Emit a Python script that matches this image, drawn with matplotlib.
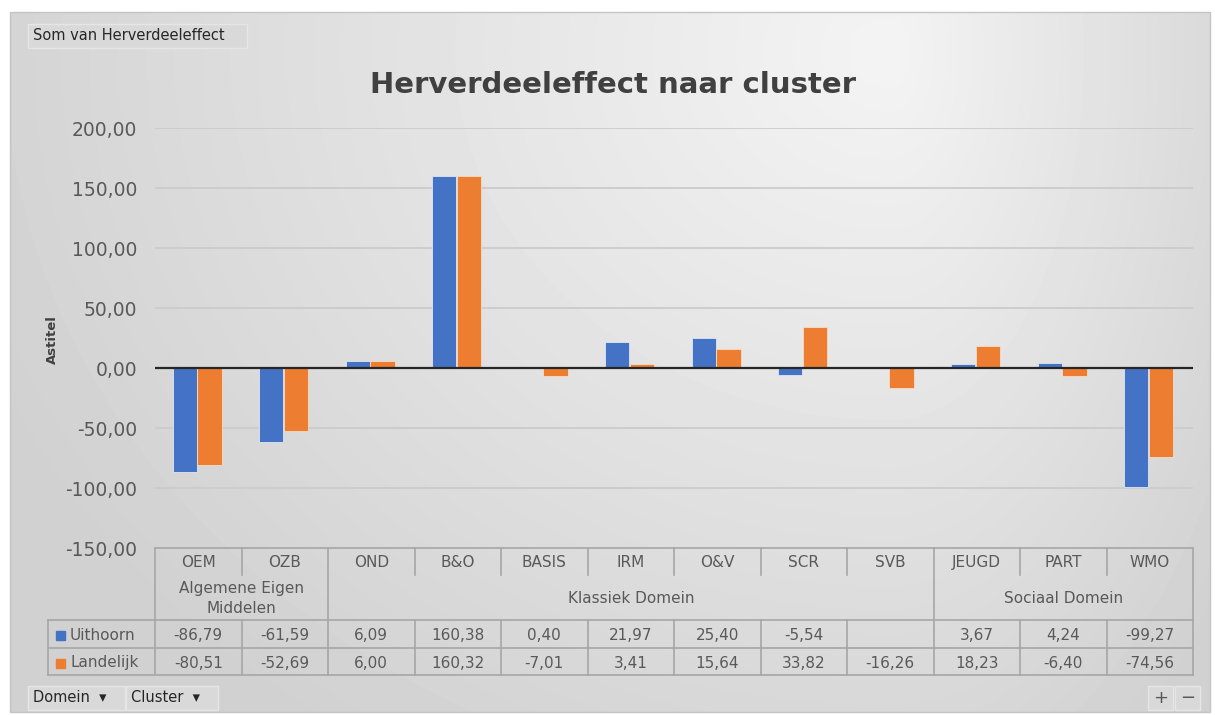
import numpy as np
import matplotlib.pyplot as plt
from matplotlib.patches import Rectangle

clusters = ['OEM', 'OZB', 'OND', 'B&O', 'BASIS', 'IRM', 'O&V', 'SCR', 'SVB', 'JEUGD', 'PART', 'WMO']
domeinen = ['Algemene Eigen\nMiddelen', 'Klassiek Domein', 'Sociaal Domein']
domein_sizes = [2, 7, 3]
uithoorn = [-86.79, -61.59, 6.09, 160.38, 0.40, 21.97, 25.40, -5.54, np.nan, 3.67, 4.24, -99.27]
landelijk = [-80.51, -52.69, 6.00, 160.32, -7.01, 3.41, 15.64, 33.82, -16.26, 18.23, -6.40, -74.56]
series = ['Uithoorn', 'Landelijk']
colors = ['#4472C4', '#ED7D31']
yticks = [-150, -100, -50, 0, 50, 100, 150, 200]


def nl(v):
    return f'{v:.2f}'.replace('.', ',')


W, H = 1215, 715
fig = plt.figure(figsize=(W / 100, H / 100), dpi=100)

# background panel, pixel coordinates
bg = fig.add_axes([0, 0, 1, 1])
yy, xx = np.mgrid[0:700, 0:1200].astype(float)
dx = xx - 880
dx = np.where(dx < 0, dx / 900, dx / 400)
d = np.hypot(dx, (yy - 40) / 760)
shade = 0.955 - 0.125 * np.clip(d, 0, 1.1)
bg.imshow(shade, cmap='gray', vmin=0, vmax=1, extent=(10, 1210, 712, 12),
          aspect='auto', interpolation='bilinear', zorder=0)
bg.set_xlim(0, W)
bg.set_ylim(H, 0)
bg.axis('off')
bg.add_patch(Rectangle((10, 12), 1200, 700, fill=False, ec='#c4c4c4', lw=1))

# main chart
x0, x1, ytop, ybot = 155, 1193, 128, 548
ax = fig.add_axes([x0 / W, 1 - ybot / H, (x1 - x0) / W, (ybot - ytop) / H])
ax.patch.set_alpha(0)
x = np.arange(len(clusters))
w = 0.28
ax.bar(x - 0.155, uithoorn, w, color=colors[0], ec='#dfe6f5', lw=0.6, zorder=3)
ax.bar(x + 0.13, landelijk, w, color=colors[1], ec='#f8dcc8', lw=0.6, zorder=3)
ax.set_xlim(-0.5, len(clusters) - 0.5)
ax.set_ylim(-150, 200)
ax.set_yticks(yticks)
ax.set_yticklabels([nl(t) for t in yticks], fontsize=13.5, color='#595959')
ax.tick_params(axis='y', length=0, pad=13)
ax.set_xticks([])
for t in yticks:
    if t == 0:
        ax.axhline(t, color='#262626', lw=1.6, zorder=4)
    elif t != -150:
        ax.axhline(t, color='#cbcbcb', lw=1.3, zorder=1)
for s in ax.spines.values():
    s.set_visible(False)

fig.text(613 / W, 1 - 85 / H, 'Herverdeeleffect naar cluster', ha='center', va='center',
         fontsize=21, fontweight='bold', color='#404040')
fig.text(52 / W, 1 - 340 / H, 'Astitel', rotation=90, ha='center', va='center',
         fontsize=9.5, fontweight='bold', color='#404040')

# data table under the plot
lc = '#a6a6a6'
cw = (x1 - x0) / len(clusters)
r0, r1, r2, r3, r4 = 548, 575, 620, 648, 675
bg.plot([x0, x1], [r0, r0], color=lc, lw=1.2)
for yv in (r2, r3, r4):
    bg.plot([48, x1], [yv, yv], color=lc, lw=1.2)
bg.plot([x0, x0], [r0, r4], color=lc, lw=1.2)
bg.plot([x1, x1], [r0, r4], color=lc, lw=1.2)
bg.plot([48, 48], [r2, r4], color=lc, lw=1.2)
bounds = np.cumsum(domein_sizes)
for i in range(1, len(clusters)):
    xv = x0 + i * cw
    top = r0 if i in bounds else r2
    bg.plot([xv, xv], [top, r4], color=lc, lw=1.2)
    if i not in bounds:
        bg.plot([xv, xv], [r0, r1], color=lc, lw=1.2)
for i, c in enumerate(clusters):
    bg.text(x0 + (i + 0.5) * cw, (r0 + r1) / 2 + 1, c, ha='center', va='center',
            fontsize=11, color='#595959')
start = 0
for name, n in zip(domeinen, domein_sizes):
    bg.text(x0 + (start + n / 2) * cw, (r1 + r2) / 2 + 1, name, ha='center', va='center',
            fontsize=11, color='#595959', linespacing=1.45)
    start += n
for row, (name, vals, col) in enumerate(zip(series, [uithoorn, landelijk], colors)):
    yc = (r2 + r3) / 2 + row * (r3 - r2) + 1
    bg.add_patch(Rectangle((56, yc - 4.5), 9, 9, color=col))
    bg.text(70, yc, name, ha='left', va='center', fontsize=11, color='#595959')
    for i, v in enumerate(vals):
        if not np.isnan(v):
            bg.text(x0 + (i + 0.5) * cw, yc, nl(v), ha='center', va='center',
                    fontsize=11, color='#595959')


def button(xl, yt, wd, ht, label):
    bg.add_patch(Rectangle((xl, yt), wd, ht, fc='#d9d9d9', ec='#e6e6e6', lw=1))
    bg.text(xl + 5, yt + ht / 2, label, ha='left', va='center', fontsize=10.5, color='#262626')


button(28, 24, 219, 24, 'Som van Herverdeeleffect')
button(28, 686, 97, 24, 'Domein  \u25be')
button(126, 686, 92, 24, 'Cluster  \u25be')
bg.add_patch(Rectangle((1148, 686), 25, 24, fc='#d9d9d9', ec='#e6e6e6', lw=1))
bg.add_patch(Rectangle((1175, 686), 25, 24, fc='#d9d9d9', ec='#e6e6e6', lw=1))
bg.text(1160.5, 698, '+', ha='center', va='center', fontsize=13, color='#595959')
bg.text(1187.5, 698, '\u2212', ha='center', va='center', fontsize=13, color='#595959')

fig.savefig('out.png', dpi=100)
